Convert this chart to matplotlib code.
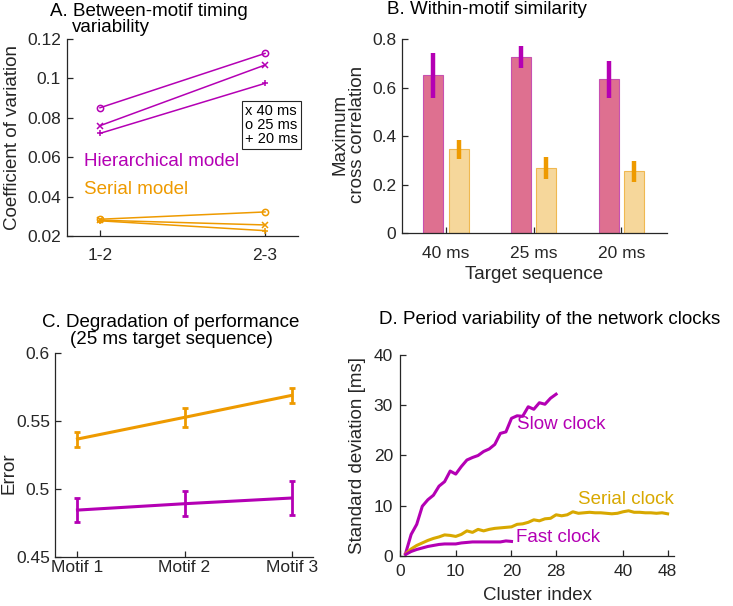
import numpy as np
import matplotlib
matplotlib.use('Agg')
import matplotlib.pyplot as plt

plt.rcParams['font.family'] = ['Liberation Sans', 'DejaVu Sans']
plt.rcParams['font.size'] = 13.5

# colours
MAG = '#b400b4'
ORA = '#ee9a00'
GOLD = '#d8a800'
DARK = '#262626'
FS = 13.5   # labels, titles, annotations
TFS = 12.5  # tick labels

# A. between-motif timing variability
pairs = ['1-2', '2-3']
hier_40 = [0.0760, 0.1068]
hier_25 = [0.0851, 0.1127]
hier_20 = [0.0721, 0.0975]
serial_40 = [0.0280, 0.0256]
serial_25 = [0.0285, 0.0322]
serial_20 = [0.0277, 0.0227]

# B. within-motif similarity
targets = ['40 ms', '25 ms', '20 ms']
hier_corr = [0.650, 0.725, 0.634]
hier_corr_err = [0.093, 0.045, 0.075]
serial_corr = [0.346, 0.268, 0.255]
serial_corr_err = [0.040, 0.045, 0.043]

# C. degradation of performance
motifs = ['Motif 1', 'Motif 2', 'Motif 3']
serial_error = [0.5368, 0.5528, 0.5690]
serial_error_sd = [0.0055, 0.0068, 0.0055]
hier_error = [0.4844, 0.4891, 0.4933]
hier_error_sd = [0.0090, 0.0092, 0.0122]

# D. period variability of clocks
slow_clock = [0.5, 4.3, 6.3, 9.9, 11.2, 12.1, 13.9, 14.8, 16.9, 16.3, 17.8, 19.1, 19.6, 20.0,
              20.8, 21.3, 22.2, 24.4, 24.7, 27.4, 27.9, 27.8, 29.7, 29.2, 30.5, 30.2, 31.4, 32.2]
fast_clock = [0.3, 0.9, 1.3, 1.6, 1.9, 2.1, 2.3, 2.4, 2.4, 2.4, 2.6, 2.7, 2.8, 2.8,
              2.8, 2.8, 2.8, 2.8, 3.0, 2.9]
serial_clock = [0.4, 1.4, 2.1, 2.6, 3.1, 3.5, 3.8, 4.2, 4.1, 3.9, 4.3, 5.0, 4.7, 5.3, 5.0, 5.3,
                5.5, 5.6, 5.7, 5.8, 6.3, 6.4, 6.7, 7.2, 7.0, 7.4, 7.5, 8.2, 8.0, 8.2, 8.8, 8.5,
                8.6, 8.7, 8.6, 8.6, 8.5, 8.4, 8.5, 8.8, 9.0, 8.7, 8.7, 8.6, 8.6, 8.5, 8.6, 8.4]


def matlab_style(ax, xpad, ypad):
    for s in ['top', 'right']:
        ax.spines[s].set_visible(False)
    for s in ['left', 'bottom']:
        ax.spines[s].set_color(DARK)
        ax.spines[s].set_linewidth(0.9)
    ax.tick_params(direction='in', length=4, width=0.9, colors=DARK, labelsize=TFS)
    ax.tick_params(axis='x', pad=xpad)
    ax.tick_params(axis='y', pad=ypad)


fig = plt.figure(figsize=(7.33, 6.06), dpi=100)
axA = fig.add_axes([0.0914, 0.6106, 0.3152, 0.325])
axB = fig.add_axes([0.5484, 0.615, 0.3617, 0.3206])
axC = fig.add_axes([0.075, 0.0813, 0.352, 0.3356])
axD = fig.add_axes([0.5457, 0.0825, 0.3742, 0.3317])

# ---- panel A
xa = np.arange(1, len(pairs) + 1)
for vals, m, c in [(hier_25, 'o', MAG), (hier_40, 'x', MAG), (hier_20, '+', MAG),
                   (serial_25, 'o', ORA), (serial_40, 'x', ORA), (serial_20, '+', ORA)]:
    axA.plot(xa, vals, '-', marker=m, color=c, lw=1.1, ms=4.5, mfc='none', mew=1.1)
axA.set_xlim(0.8, 2.2)
axA.set_ylim(0.02, 0.12)
axA.set_xticks(xa)
axA.set_xticklabels(pairs)
axA.set_yticks([0.02, 0.04, 0.06, 0.08, 0.1, 0.12])
axA.set_yticklabels(['0.02', '0.04', '0.06', '0.08', '0.1', '0.12'])
axA.set_ylabel('Coefficient of variation', color=DARK, fontsize=FS)
axA.yaxis.set_label_coords(-0.2, 0.5)
axA.text(0.902, 0.0576, 'Hierarchical model', color=MAG, fontsize=FS, va='center')
axA.text(0.902, 0.0434, 'Serial model', color=ORA, fontsize=FS, va='center')
axA.text(0.77, 0.563, 'x 40 ms\no 25 ms\n+ 20 ms', transform=axA.transAxes, fontsize=10.5,
         va='center', ha='left', color='k', linespacing=1.0,
         bbox=dict(boxstyle='square,pad=0.2', fc='white', ec=DARK, lw=0.8))
matlab_style(axA, 8.5, 4.3)
fig.text(50 / 733, 1 - 11 / 606, 'A. Between-motif timing', fontsize=FS, va='center', color='k')
fig.text(72 / 733, 1 - 27 / 606, 'variability', fontsize=FS, va='center', color='k')

# ---- panel B
xb = np.arange(1, len(targets) + 1)
w = 0.23
axB.bar(xb - 0.145, hier_corr, w, color='#de7090', edgecolor='#c850b0', lw=0.8)
axB.bar(xb + 0.145, serial_corr, w, color='#f6d79b', edgecolor='#f0b850', lw=0.8)
axB.errorbar(xb - 0.145, hier_corr, yerr=hier_corr_err, fmt='none', ecolor=MAG, elinewidth=3.2, capsize=0)
axB.errorbar(xb + 0.145, serial_corr, yerr=serial_corr_err, fmt='none', ecolor=ORA, elinewidth=3.2, capsize=0)
axB.set_xlim(0.5, 3.52)
axB.set_ylim(0, 0.8)
axB.set_xticks(xb)
axB.set_xticklabels(targets)
axB.set_yticks([0, 0.2, 0.4, 0.6, 0.8])
axB.set_yticklabels(['0', '0.2', '0.4', '0.6', '0.8'])
axB.set_ylabel('Maximum\ncross correlation', color=DARK, fontsize=FS, linespacing=1.0)
axB.yaxis.set_label_coords(-0.136, 0.51)
axB.set_xlabel('Target sequence', color=DARK, fontsize=FS)
axB.xaxis.set_label_coords(0.5, -0.17)
matlab_style(axB, 9, 4)
fig.text(387 / 733, 1 - 10 / 606, 'B. Within-motif similarity', fontsize=FS, va='center', color='k')

# ---- panel C
xc = np.arange(1, len(motifs) + 1)
axC.errorbar(xc, serial_error, yerr=serial_error_sd, color=ORA, lw=2.2, elinewidth=2.0,
             capsize=2.5, capthick=2.0)
axC.errorbar(xc, hier_error, yerr=hier_error_sd, color=MAG, lw=2.2, elinewidth=2.0,
             capsize=2.5, capthick=2.0)
axC.set_xlim(0.79, 3.2)
axC.set_ylim(0.45, 0.6)
axC.set_xticks(xc)
axC.set_xticklabels(motifs)
axC.set_yticks([0.45, 0.5, 0.55, 0.6])
axC.set_yticklabels(['0.45', '0.5', '0.55', '0.6'])
axC.set_ylabel('Error', color=DARK, fontsize=FS)
axC.yaxis.set_label_coords(-0.147, 0.41)
matlab_style(axC, 2, 3.6)
fig.text(171 / 733, 1 - 331 / 606, 'C. Degradation of performance\n(25 ms target sequence)',
         fontsize=FS, va='center', ha='center', color='k', linespacing=0.95)

# ---- panel D
axD.plot(np.arange(1, len(slow_clock) + 1), slow_clock, color=MAG, lw=2.2)
axD.plot(np.arange(1, len(serial_clock) + 1), serial_clock, color=GOLD, lw=2.2)
axD.plot(np.arange(1, len(fast_clock) + 1), fast_clock, color=MAG, lw=2.2)
axD.text(21.0, 26.1, 'Slow clock', color=MAG, fontsize=FS, va='center')
axD.text(32.0, 11.3, 'Serial clock', color=GOLD, fontsize=FS, va='center')
axD.text(20.8, 3.6, 'Fast clock', color=MAG, fontsize=FS, va='center')
axD.set_xlim(0, 49.2)
axD.set_ylim(0, 40)
axD.set_xticks([0, 10, 20, 28, 40, 48])
axD.set_yticks([0, 10, 20, 30, 40])
axD.set_xlabel('Cluster index', color=DARK, fontsize=FS)
axD.xaxis.set_label_coords(0.5, -0.155)
axD.set_ylabel('Standard deviation [ms]', color=DARK, fontsize=FS)
axD.yaxis.set_label_coords(-0.124, 0.5)
matlab_style(axD, 6, 5)
fig.text(550 / 733, 1 - 320 / 606, 'D. Period variability of the network clocks',
         fontsize=FS, va='center', ha='center', color='k')

fig.savefig('out.png', dpi=100)
